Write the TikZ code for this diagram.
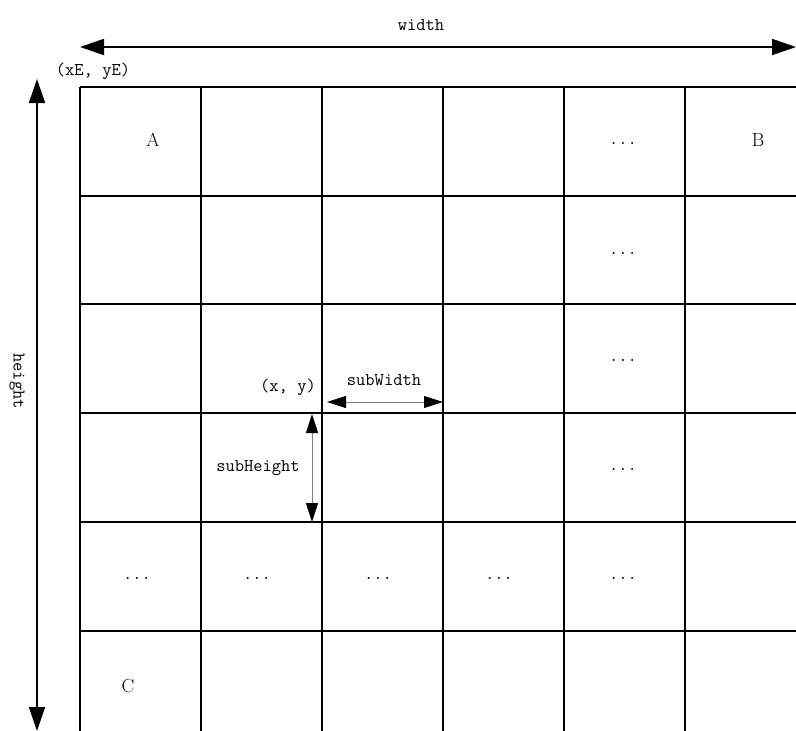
\documentclass[tikz,border=0pt]{standalone}
\usetikzlibrary{arrows.meta,positioning}

\begin{document}
\begin{tikzpicture}[x=1pt, y=-1pt,
  gridline/.style={line width=1.6pt},
  dimarrow/.style={{Triangle[length=24pt,width=16pt]}-{Triangle[length=24pt,width=16pt]}, line width=1.8pt},
  subarrow/.style={{Triangle[length=19pt,width=12pt,black]}-{Triangle[length=19pt,width=12pt,black]}, draw=gray, line width=0.9pt},
  lbl/.style={font=\fontsize{18}{20}\selectfont\ttfamily, inner sep=0pt},
  cell/.style={font=\fontsize{19}{21}\selectfont, inner sep=0pt}
]
\useasboundingbox (0,0) rectangle (796,731);

% the grid, cut off at right and bottom
\begin{scope}
  \clip (0,0) rectangle (796,731);
  \foreach \y in {87,196,304,413,522,631}
    \draw[gridline] (80,\y) -- (800,\y);
  \foreach \x in {80,201,322,443,564,685}
    \draw[gridline] (\x,87) -- (\x,735);
\end{scope}

% overall size
\coordinate (wl) at (80,47);
\coordinate (wr) at (796,47);
\draw[dimarrow] (wl) -- (wr);
\node[lbl] (widthlbl) at (421,25) {width};

\coordinate (ht) at (37,79);
\coordinate (hb) at (37,731);
\draw[dimarrow] (ht) -- (hb);
\node[lbl, rotate=-90] (heightlbl) at (17,381) {height};

\node[lbl] (origin) at (93,71) {(xE, yE)};

% cell labels
\node[cell] (cellA) at (153,140) {A};
\node[cell] (cellB) at (758,140) {B};
\node[cell] (cellC) at (128,686) {C};

\foreach \y [count=\i] in {143,253,360,469}
  \node[lbl] (dr\i) at (623,\y) {...};
\foreach \x [count=\i] in {137,257,378,499,623}
  \node[lbl] (dc\i) at (\x,578) {...};

% one sub-block
\node[lbl, anchor=east] (xy) at (316,387) {(x, y)};
\coordinate (swl) at (327,402);
\coordinate (swr) at (443,402);
\draw[subarrow] (swl) -- (swr);
\node[lbl] (subw) at (384,380) {subWidth};

\coordinate (sht) at (312,414);
\coordinate (shb) at (312,522);
\draw[subarrow] (sht) -- (shb);
\node[lbl] (subh) at (258,468) {subHeight};

\end{tikzpicture}
\end{document}
